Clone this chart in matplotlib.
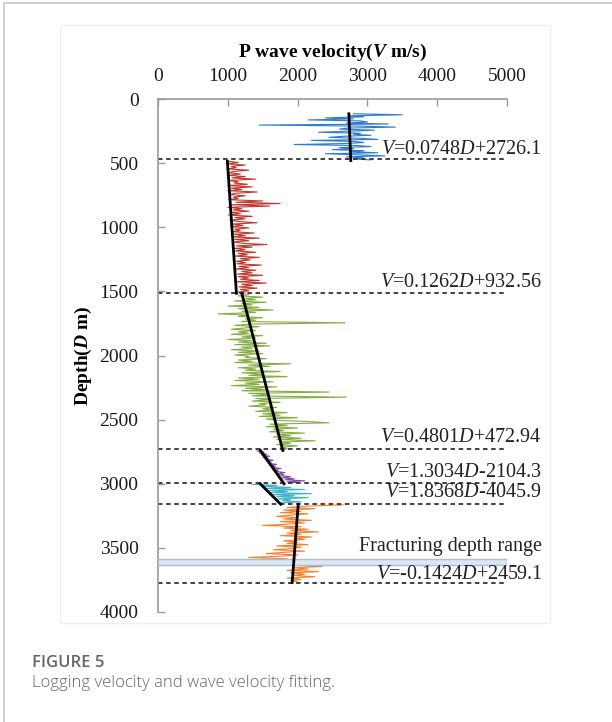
import numpy as np
import matplotlib.pyplot as plt
from matplotlib.patches import Rectangle

plt.rcParams['font.family'] = ['Liberation Serif', 'DejaVu Serif']
plt.rcParams['mathtext.fontset'] = 'custom'
plt.rcParams['mathtext.rm'] = 'Liberation Serif'
plt.rcParams['mathtext.it'] = 'Liberation Serif:italic'
plt.rcParams['mathtext.bf'] = 'Liberation Serif:bold'
plt.rcParams['mathtext.bfit'] = 'Liberation Serif:bold:italic'

# logging data per layer: depth (m) and P wave velocity (m/s)
d_blue = [115, 123, 131, 139, 147, 155, 163, 171, 179, 187, 195, 203, 211, 219, 227, 235,
          243, 251, 259, 267, 275, 283, 291, 299, 307, 315, 323, 331, 339, 347, 355, 363,
          371, 379, 387, 395, 403, 411, 419, 427, 435, 443, 451, 459, 467, 475]
v_blue = [2800, 3500, 2750, 2950, 2400, 2800, 2150, 2900, 3000, 2700, 3300, 1450, 2850, 3400, 2700, 2600,
          3100, 2750, 2300, 2900, 2800, 3050, 2650, 2450, 2900, 3150, 2200, 2800, 2950, 2700, 1950, 2850,
          3050, 2600, 2800, 2500, 2950, 2750, 3150, 2400, 2850, 3250, 2700, 2950, 2800, 3050]

d_red = [485, 495, 505, 515, 525, 535, 545, 555, 565, 575,
         585, 595, 605, 615, 625, 635, 645, 655, 665, 675,
         685, 695, 705, 715, 725, 735, 745, 755, 765, 775,
         785, 795, 805, 815, 825, 835, 845, 855, 865, 875,
         885, 895, 905, 915, 925, 935, 945, 955, 965, 975,
         985, 995, 1005, 1015, 1025, 1035, 1045, 1055, 1065, 1075,
         1085, 1095, 1105, 1115, 1125, 1135, 1145, 1155, 1165, 1175,
         1185, 1195, 1205, 1215, 1225, 1235, 1245, 1255, 1265, 1275,
         1285, 1295, 1305, 1315, 1325, 1335, 1345, 1355, 1365, 1375,
         1385, 1395, 1405, 1415, 1425, 1435, 1445, 1455, 1465, 1475,
         1485, 1495, 1505, 1515]
v_red = [1000, 1150, 980, 1250, 1050, 1120, 990, 1300, 1080, 1020,
         1180, 1000, 1250, 1060, 1400, 1010, 1150, 1090, 1280, 1000,
         1350, 1050, 1200, 1000, 1420, 1100, 1030, 1250, 1080, 1150,
         1010, 1500, 1120, 1750, 1060, 1600, 1000, 1200, 1080, 1300,
         1040, 1180, 1010, 1350, 1100, 1250, 1030, 1150, 1420, 1060,
         1220, 1040, 1300, 1100, 1180, 1060, 1380, 1090, 1250, 1070,
         1450, 1100, 1300, 1080, 1200, 1560, 1120, 1350, 1090, 1250,
         1110, 1400, 1150, 1280, 1100, 1450, 1180, 1320, 1120, 1250,
         1130, 1480, 1160, 1300, 1120, 1400, 1200, 1350, 1140, 1500,
         1150, 1300, 1180, 1450, 1130, 1550, 1200, 1350, 1160, 1420,
         1180, 1300, 1150, 1250]

d_green = [1525, 1535, 1545, 1555, 1565, 1575, 1585, 1595, 1605, 1615,
           1625, 1635, 1645, 1655, 1665, 1675, 1685, 1695, 1705, 1715,
           1725, 1735, 1745, 1755, 1765, 1775, 1785, 1795, 1805, 1815,
           1825, 1835, 1845, 1855, 1865, 1875, 1885, 1895, 1905, 1915,
           1925, 1935, 1945, 1955, 1965, 1975, 1985, 1995, 2005, 2015,
           2025, 2035, 2045, 2055, 2065, 2075, 2085, 2095, 2105, 2115,
           2125, 2135, 2145, 2155, 2165, 2175, 2185, 2195, 2205, 2215,
           2225, 2235, 2245, 2255, 2265, 2275, 2285, 2295, 2305, 2315,
           2325, 2335, 2345, 2355, 2365, 2375, 2385, 2395, 2405, 2415,
           2425, 2435, 2445, 2455, 2465, 2475, 2485, 2495, 2505, 2515,
           2525, 2535, 2545, 2555, 2565, 2575, 2585, 2595, 2605, 2615,
           2625, 2635, 2645, 2655, 2665, 2675, 2685, 2695, 2705, 2715,
           2725, 2735]
v_green = [1300, 1150, 1500, 1250, 1400, 1100, 1550, 1200, 1350, 1000,
           1450, 1150, 1650, 1200, 1400, 860, 1300, 1150, 1500, 1250,
           1400, 1200, 2680, 1350, 1100, 1450, 1250, 1050, 1400, 1150,
           1300, 1050, 1500, 1200, 1400, 1000, 1350, 1150, 1550, 1100,
           1600, 1200, 1350, 1050, 1450, 1150, 1500, 1100, 1300, 1250,
           1550, 1150, 1350, 1100, 1900, 1300, 1600, 1150, 1400, 1250,
           1750, 1200, 1500, 1300, 1850, 1150, 1450, 1100, 1650, 1250,
           1450, 1050, 1700, 1250, 1550, 1200, 2450, 1300, 1600, 1350,
           2700, 1400, 1600, 1350, 1750, 1450, 1550, 1300, 1700, 1500,
           1650, 1400, 1850, 1500, 1750, 1450, 2000, 1550, 1700, 2150,
           2450, 1600, 1850, 1550, 2000, 1650, 1800, 1600, 2100, 1700,
           1900, 1650, 2050, 1700, 2250, 1750, 1900, 1700, 2000, 1750,
           1850, 1800]

d_purple = [2745, 2753, 2761, 2769, 2777, 2785, 2793, 2801, 2809, 2817, 2825, 2833, 2841, 2849, 2857, 2865,
            2873, 2881, 2889, 2897, 2905, 2913, 2921, 2929, 2937, 2945, 2953, 2961, 2969, 2977, 2985, 2993]
v_purple = [1420, 1520, 1450, 1560, 1480, 1600, 1500, 1580, 1530, 1650, 1560, 1620, 1580, 1700, 1600, 1680,
            1640, 1760, 1650, 1720, 1700, 1820, 1720, 1800, 1760, 1900, 1780, 1950, 1820, 2100, 1850, 2000]

d_cyan = [3005, 3013, 3021, 3029, 3037, 3045, 3053, 3061, 3069, 3077, 3085, 3093, 3101, 3109, 3117, 3125,
          3133, 3141, 3149]
v_cyan = [1350, 1700, 1500, 1900, 1550, 2100, 1600, 1850, 1620, 2200, 1650, 1950, 1700, 2150, 1720, 1900,
          1780, 2050, 1760]

d_orange = [3165, 3175, 3185, 3195, 3205, 3215, 3225, 3235, 3245, 3255,
            3265, 3275, 3285, 3295, 3305, 3315, 3325, 3335, 3345, 3355,
            3365, 3375, 3385, 3395, 3405, 3415, 3425, 3435, 3445, 3455,
            3465, 3475, 3485, 3495, 3505, 3515, 3525, 3535, 3545, 3555,
            3565, 3575, 3585, 3595, 3605, 3615, 3625, 3635, 3645, 3655,
            3665, 3675, 3685, 3695, 3705, 3715, 3725, 3735, 3745, 3755,
            3765]
v_orange = [2650, 2100, 1850, 2250, 1800, 2050, 1750, 2150, 1900, 1700,
            2000, 1800, 2200, 1750, 2100, 1850, 1500, 2050, 1800, 2150,
            1900, 2300, 1850, 2050, 1750, 2200, 1950, 2100, 1800, 2000,
            1850, 2150, 1700, 2050, 1900, 1650, 2100, 1800, 1550, 2000,
            1750, 1300, 1850, 1600, 2100, 1800, 2250, 1900, 2350, 1950,
            2150, 1850, 2300, 1900, 2100, 1950, 2250, 1850, 2050, 1900,
            2000]

# linear fits V = k*D + b over each layer (top, bottom, k, b)
fit_top = [115, 485, 1520, 2740, 3000, 3160]
fit_bot = [480, 1515, 2740, 3000, 3160, 3770]
fit_k = [0.0748, 0.1262, 0.4801, 1.3034, 1.8368, -0.1424]
fit_b = [2726.1, 932.56, 472.94, -2104.3, -4045.9, 2459.1]
fit_text = [r'$V$=0.0748$D$+2726.1', r'$V$=0.1262$D$+932.56', r'$V$=0.4801$D$+472.94',
            r'$V$=1.3034$D$-2104.3', r'$V$=1.8368$D$-4045.9', r'$V$=-0.1424$D$+2459.1']
text_depth = [397, 1434, 2642, 2915, 3071, 3710]

layer_lines = [470, 1515, 2730, 2995, 3160, 3772]
frac_top, frac_bot = 3585, 3632

fig = plt.figure(figsize=(6.12, 7.22), dpi=100)

# page frame and image panel
fig.add_artist(plt.Line2D([4 / 612, 4 / 612], [0, 1 - 3 / 722], color='#c8c8c8', lw=1.2))
fig.add_artist(plt.Line2D([4 / 612, 1], [1 - 3 / 722, 1 - 3 / 722], color='#c8c8c8', lw=1.2))
fig.add_artist(Rectangle((60 / 612, 1 - 623 / 722), 490 / 612, 598 / 722, transform=fig.transFigure,
                         fill=False, ec='#efefef', lw=1))

ax = fig.add_axes([158 / 612, 1 - 612 / 722, 349 / 612, 513 / 722])

series = [(d_blue, v_blue, '#2f7ccc'), (d_red, v_red, '#c0392f'), (d_green, v_green, '#86ad45'),
          (d_purple, v_purple, '#7d4fa3'), (d_cyan, v_cyan, '#3fb4c8'), (d_orange, v_orange, '#f2822f')]
for d, v, c in series:
    ax.plot(v, d, color=c, lw=0.8)

for dl in layer_lines:
    ax.plot([0, 5000], [dl, dl], color='#333333', lw=1.3, ls=(0, (2.5, 2)))

ax.add_patch(Rectangle((0, frac_top), 5000, frac_bot - frac_top, fc='#d9e8f2', ec='#a9bfcf', lw=1, zorder=3))

for t, bt, k, b in zip(fit_top, fit_bot, fit_k, fit_b):
    dd = np.array([t, bt])
    ax.plot(k * dd + b, dd, color='black', lw=2, zorder=4)

for s, dpt in zip(fit_text, text_depth):
    ax.text(5500, dpt, s, ha='right', va='center', fontsize=14.5, color='#222222', zorder=5)
ax.text(5500, 3492, 'Fracturing depth range', ha='right', va='center', fontsize=14.5, color='#222222')

ax.set_xlim(0, 5000)
ax.set_ylim(4000, 0)
ax.set_xticks([0, 1000, 2000, 3000, 4000, 5000])
ax.set_yticks([0, 500, 1000, 1500, 2000, 2500, 3000, 3500, 4000])
ax.xaxis.tick_top()
ax.xaxis.set_label_position('top')
for side in ['right', 'bottom']:
    ax.spines[side].set_visible(False)
for side in ['left', 'top']:
    ax.spines[side].set_color('#9a9a9a')
    ax.spines[side].set_linewidth(1.2)
ax.tick_params(direction='in', length=5, width=1, color='#9a9a9a', labelsize=14, labelcolor='#1a1a1a')
ax.tick_params(axis='y', pad=14)
ax.tick_params(axis='x', pad=10)
ax.set_xlabel(r'P wave velocity($\mathbfit{V}$ m/s)', fontsize=14, fontweight='bold', labelpad=8)
ax.set_ylabel(r'Depth($\mathbfit{D}$ m)', fontsize=14, fontweight='bold', labelpad=4)

fig.text(32 / 612, 1 - 663 / 722, 'FIGURE 5', fontsize=12, fontfamily='Open Sans', fontweight='semibold',
         color='#666666', va='center')
fig.text(32 / 612, 1 - 683 / 722, 'Logging velocity and wave velocity fitting.', fontsize=12,
         fontfamily='Open Sans', fontweight='light', color='#666666', va='center')

fig.savefig('out.png', dpi=100)
